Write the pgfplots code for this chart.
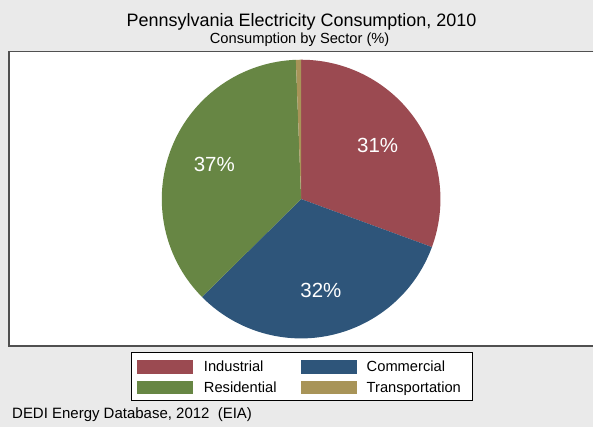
\documentclass[border=0pt]{standalone}
\usepackage{pgfplots}
\usepackage{pgfplotstable}
\pgfplotsset{compat=1.18}
\usepackage{fontspec}
\setmainfont{Liberation Sans}
\definecolor{bggray}{RGB}{234,234,234}
\definecolor{cInd}{RGB}{155,74,81}
\definecolor{cCom}{RGB}{46,85,122}
\definecolor{cRes}{RGB}{103,134,68}
\definecolor{cTra}{RGB}{168,148,88}
\definecolor{framec}{RGB}{80,80,80}

\pgfplotstableread{
sector value
Industrial 30.6
Commercial 32.0
Residential 36.8
Transportation 0.6
}\pietable

\begin{document}
\begin{tikzpicture}
\begin{scope}[x=1pt,y=1pt]
\fill[bggray] (0,0) rectangle (594,428);
\fill[white] (9,81.5) rectangle (594,376.5);
\draw[framec, line width=1.5pt] (594,376.5) -- (9,376.5) -- (9,81.5) -- (594,81.5);
\node[anchor=base, inner sep=0pt, font=\fontsize{18}{20}\selectfont] at (302,401) {Pennsylvania Electricity Consumption, 2010};
\node[anchor=base, inner sep=0pt, font=\fontsize{14.7}{16}\selectfont] at (300,384) {Consumption by Sector (\%)};
\end{scope}

\pgfplotstablegetelem{0}{value}\of\pietable \let\vA\pgfplotsretval
\pgfplotstablegetelem{1}{value}\of\pietable \let\vB\pgfplotsretval
\pgfplotstablegetelem{2}{value}\of\pietable \let\vC\pgfplotsretval
\pgfplotstablegetelem{3}{value}\of\pietable \let\vD\pgfplotsretval
\pgfmathsetmacro\aA{90}
\pgfmathsetmacro\aB{\aA-3.6*\vA}
\pgfmathsetmacro\aC{\aB-3.6*\vB}
\pgfmathsetmacro\aD{\aC-3.6*\vC}
\pgfmathsetmacro\aE{\aD-3.6*\vD}
\pgfmathsetmacro\mA{(\aA+\aB)/2}
\pgfmathsetmacro\mB{(\aB+\aC)/2}
\pgfmathsetmacro\mC{(\aC+\aD)/2}

\begin{axis}[at={(162pt,89.2pt)}, anchor=south west, scale only axis,
  width=279pt, height=279pt, xmin=-1, xmax=1, ymin=-1, ymax=1,
  hide axis, clip=false]
\fill[cInd] (axis cs:0,0) -- (axis cs:{cos(\aA)},{sin(\aA)}) arc[start angle=\aA, end angle=\aB, radius=139.5pt] -- cycle;
\fill[cCom] (axis cs:0,0) -- (axis cs:{cos(\aB)},{sin(\aB)}) arc[start angle=\aB, end angle=\aC, radius=139.5pt] -- cycle;
\fill[cRes] (axis cs:0,0) -- (axis cs:{cos(\aC)},{sin(\aC)}) arc[start angle=\aC, end angle=\aD, radius=139.5pt] -- cycle;
\fill[cTra] (axis cs:0,0) -- (axis cs:{cos(\aD)},{sin(\aD)}) arc[start angle=\aD, end angle=\aE, radius=139.5pt] -- cycle;
\node[white, font=\fontsize{20.5}{22}\selectfont] at (axis cs:{0.67*cos(\mA)},{0.67*sin(\mA)}) {31\%};
\node[white, font=\fontsize{20.5}{22}\selectfont] at (axis cs:{0.67*cos(\mB)},{0.67*sin(\mB)}) {32\%};
\node[white, font=\fontsize{20.5}{22}\selectfont] at (axis cs:{0.67*cos(\mC)},{0.67*sin(\mC)}) {37\%};
\end{axis}

\begin{scope}[x=1pt,y=1pt]
\draw[black, line width=0.8pt, fill=white] (131.7,27.5) rectangle (472.7,74.7);
\fill[cInd] (137,54) rectangle (193,68);
\fill[cCom] (301,54) rectangle (357,68);
\fill[cRes] (137,33) rectangle (193,47);
\fill[cTra] (301,33) rectangle (357,47);
\begin{scope}[every node/.style={anchor=base west, inner sep=0pt, font=\fontsize{14.7}{16}\selectfont}]
\node at (204,55.8) {Industrial};
\node at (367,55.8) {Commercial};
\node at (204,34.8) {Residential};
\node at (367,34.8) {Transportation};
\end{scope}
\node[anchor=base west, inner sep=0pt, font=\fontsize{15}{16}\selectfont] at (12,9) {DEDI Energy Database, 2012\ \ (EIA)};
\end{scope}
\end{tikzpicture}
\end{document}
